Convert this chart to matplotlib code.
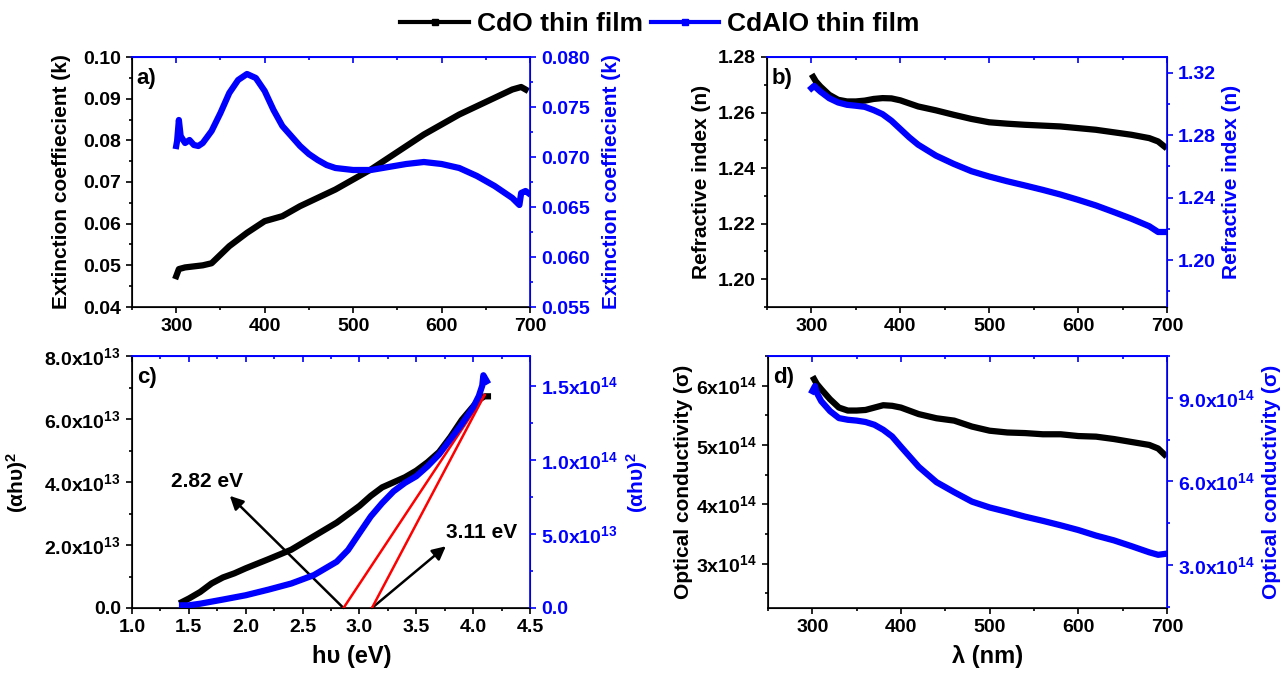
import numpy as np
import matplotlib
matplotlib.use('Agg')
import matplotlib.pyplot as plt
from matplotlib.lines import Line2D
from matplotlib.ticker import MultipleLocator, FuncFormatter

plt.rcParams['font.family'] = ['Liberation Sans', 'DejaVu Sans']
plt.rcParams['font.weight'] = 'bold'
plt.rcParams['axes.labelweight'] = 'bold'
plt.rcParams['mathtext.fontset'] = 'custom'
plt.rcParams['mathtext.rm'] = 'Liberation Sans:bold'
plt.rcParams['mathtext.default'] = 'rm'

# ---- data ----
# a) extinction coefficient vs wavelength
k_cdo_wl = [300, 303, 310, 330, 340, 360, 380, 400, 420, 440, 460, 480, 500, 520, 540,
            560, 580, 600, 620, 640, 660, 680, 690, 695]
k_cdo = [0.0474, 0.0491, 0.0495, 0.0500, 0.0505, 0.0546, 0.0578, 0.0606, 0.0618, 0.0642,
         0.0662, 0.0682, 0.0706, 0.0730, 0.0758, 0.0786, 0.0814, 0.0838, 0.0862, 0.0882,
         0.0902, 0.0922, 0.0928, 0.0922]
k_cdalo_wl = [300, 301, 303, 305, 310, 315, 320, 325, 330, 340, 350, 360, 370, 380, 390,
              400, 410, 420, 430, 440, 450, 460, 470, 480, 500, 520, 540, 560, 580, 600,
              620, 640, 660, 680, 688, 690, 695, 698]
k_cdalo = [0.0711, 0.0716, 0.0737, 0.0721, 0.0714, 0.0717, 0.0712, 0.0711, 0.0714, 0.0726,
           0.0744, 0.0764, 0.0777, 0.0783, 0.0779, 0.0766, 0.0747, 0.0731, 0.0721, 0.0711,
           0.0703, 0.0697, 0.0692, 0.0689, 0.0687, 0.0687, 0.0690, 0.0693, 0.0695, 0.0693,
           0.0689, 0.0681, 0.0671, 0.0659, 0.0652, 0.0664, 0.0666, 0.0664]

# b) refractive index vs wavelength
n_wl = [302, 305, 310, 320, 330, 340, 350, 360, 370, 380, 390, 400, 420, 440, 460, 480,
        500, 520, 540, 560, 580, 600, 620, 640, 660, 680, 690, 697]
n_cdo = [1.2728, 1.2712, 1.2694, 1.2664, 1.2646, 1.2640, 1.2640, 1.2643, 1.2649, 1.2652,
         1.2651, 1.2644, 1.2622, 1.2608, 1.2592, 1.2577, 1.2565, 1.2560, 1.2556, 1.2553,
         1.2550, 1.2544, 1.2538, 1.2529, 1.2520, 1.2508, 1.2496, 1.2478]
n_wl2 = [300, 303, 310, 320, 330, 340, 350, 360, 370, 380, 390, 400, 410, 420, 440, 460,
         480, 500, 520, 540, 560, 580, 600, 620, 640, 660, 680, 690, 697]
n_cdalo = [1.3100, 1.3115, 1.3079, 1.3036, 1.3009, 1.2994, 1.2988, 1.2981, 1.2960, 1.2934,
           1.2892, 1.2839, 1.2786, 1.2739, 1.2669, 1.2616, 1.2569, 1.2535, 1.2505, 1.2478,
           1.2450, 1.2420, 1.2386, 1.2350, 1.2308, 1.2265, 1.2217, 1.2180, 1.2180]

# c) Tauc plot
hv_cdo = [1.44, 1.5, 1.6, 1.7, 1.8, 1.9, 2.0, 2.2, 2.4, 2.6, 2.8, 3.0, 3.1, 3.2, 3.3, 3.4,
          3.5, 3.6, 3.7, 3.8, 3.9, 4.0, 4.05, 4.1, 4.13]
tauc_cdo = [1.9e12, 3.0e12, 5.1e12, 7.8e12, 9.7e12, 1.1e13, 1.26e13, 1.55e13, 1.85e13,
            2.28e13, 2.71e13, 3.24e13, 3.56e13, 3.83e13, 3.99e13, 4.15e13, 4.36e13,
            4.63e13, 4.95e13, 5.43e13, 5.97e13, 6.40e13, 6.61e13, 6.72e13, 6.72e13]
hv_cdalo = [1.44, 1.5, 1.6, 1.8, 2.0, 2.2, 2.4, 2.6, 2.8, 2.9, 3.0, 3.1, 3.2, 3.3, 3.4, 3.5,
            3.6, 3.7, 3.8, 3.9, 4.0, 4.05, 4.08, 4.09, 4.12]
tauc_cdalo = [1.8e12, 1.8e12, 2.9e12, 5.7e12, 8.6e12, 1.24e13, 1.65e13, 2.22e13, 3.12e13,
              3.91e13, 5.05e13, 6.18e13, 7.08e13, 7.87e13, 8.44e13, 8.89e13, 9.57e13,
              1.036e14, 1.138e14, 1.24e14, 1.353e14, 1.43e14, 1.50e14, 1.57e14, 1.53e14]
fit1_x = [2.86, 4.10]
fit2_x = [3.11, 4.10]
fit_y = [0, 6.76e13]
gap_labels = ['2.82 eV', '3.11 eV']

# d) optical conductivity
s_wl = [302, 305, 310, 320, 330, 340, 350, 360, 370, 380, 390, 400, 420, 440, 460, 480,
        500, 520, 540, 560, 580, 600, 620, 640, 660, 680, 690, 697]
s_cdo = [6.11e14, 6.03e14, 5.94e14, 5.77e14, 5.63e14, 5.58e14, 5.58e14, 5.59e14, 5.63e14,
         5.67e14, 5.66e14, 5.63e14, 5.52e14, 5.45e14, 5.41e14, 5.31e14, 5.24e14, 5.21e14,
         5.20e14, 5.18e14, 5.18e14, 5.15e14, 5.14e14, 5.10e14, 5.05e14, 5.00e14, 4.94e14,
         4.84e14]
s_wl2 = [300, 303, 305, 310, 320, 330, 340, 350, 360, 370, 380, 390, 400, 410, 420, 440,
         460, 480, 500, 520, 540, 560, 580, 600, 620, 640, 660, 680, 690, 697]
s_cdalo = [9.24e14, 9.42e14, 9.18e14, 8.88e14, 8.52e14, 8.27e14, 8.21e14, 8.18e14, 8.13e14,
           8.03e14, 7.85e14, 7.61e14, 7.24e14, 6.88e14, 6.52e14, 5.97e14, 5.61e14, 5.27e14,
           5.06e14, 4.90e14, 4.73e14, 4.58e14, 4.42e14, 4.25e14, 4.05e14, 3.88e14, 3.67e14,
           3.45e14, 3.36e14, 3.39e14]

BLUE = '#0000ff'
TFS = 14      # tick labels
YFS = 15      # y labels
XFS = 17      # x labels
LW = 4.5


def sci_fmt(dec):
    def f(v, pos):
        if abs(v) < 1e-30:
            return '0.0'
        e = int(np.floor(np.log10(abs(v)) + 1e-9))
        m = v / 10 ** e
        return f'{m:.{dec}f}x10$^{{{e}}}$'
    return FuncFormatter(f)


def style(ax, ax2, xlim, xmaj, xmin, ylim, ymaj, ymin, y2lim, y2maj, y2min):
    ax.set_xlim(*xlim)
    ax.set_ylim(*ylim)
    ax2.set_ylim(*y2lim)
    ax.xaxis.set_major_locator(MultipleLocator(xmaj))
    ax.xaxis.set_minor_locator(MultipleLocator(xmin))
    ax.yaxis.set_major_locator(MultipleLocator(ymaj))
    ax.yaxis.set_minor_locator(MultipleLocator(ymin))
    ax2.yaxis.set_major_locator(MultipleLocator(y2maj))
    ax2.yaxis.set_minor_locator(MultipleLocator(y2min))
    for a, c in ((ax, 'black'), (ax2, BLUE)):
        a.tick_params(which='both', direction='out', labelsize=TFS, width=1.2,
                      colors=c)
        a.tick_params(which='major', length=4.5)
        a.tick_params(which='minor', length=2.5)
    ax2.spines['right'].set_color(BLUE)
    ax2.spines['top'].set_color(BLUE)
    ax.spines['top'].set_color(BLUE)
    for s in ['left', 'bottom', 'top']:
        ax.spines[s].set_linewidth(1.2)
    ax2.spines['right'].set_linewidth(1.2)
    ax2.spines['top'].set_linewidth(1.2)
    top = ax.secondary_xaxis('top')
    top.xaxis.set_major_locator(MultipleLocator(xmaj))
    top.xaxis.set_minor_locator(MultipleLocator(xmin))
    top.tick_params(which='both', direction='in', labeltop=False, width=1.2,
                    colors=BLUE)
    top.tick_params(which='major', length=4.5)
    top.tick_params(which='minor', length=2.5)
    top.spines['top'].set_color(BLUE)


fig = plt.figure(figsize=(12.84, 6.75), dpi=100)
W, H = 1284, 675


def make_axes(l, r, t, b):
    return fig.add_axes([l / W, (H - b) / H, (r - l) / W, (b - t) / H])


axa = make_axes(132, 530, 57, 307)
axb = make_axes(767, 1167, 57, 307)
axc = make_axes(132, 530, 356, 608)
axd = make_axes(768, 1167, 356, 608)


def panel_label(ax, s):
    ax.text(0.012, 0.915, s, transform=ax.transAxes, fontsize=16,
            fontweight='bold', va='center', ha='left')


# a)
a2 = axa.twinx()
axa.plot(k_cdo_wl, k_cdo, color='black', lw=LW)
a2.plot(k_cdalo_wl, k_cdalo, color=BLUE, lw=LW)
style(axa, a2, (250, 700), 100, 50, (0.04, 0.10), 0.01, 0.005,
      (0.055, 0.080), 0.005, 0.0025)
axa.yaxis.set_major_formatter(FuncFormatter(lambda v, p: f'{v:.2f}'))
a2.yaxis.set_major_formatter(FuncFormatter(lambda v, p: f'{v:.3f}'))
axa.set_ylabel('Extinction coeffiecient (k)', fontsize=YFS)
a2.set_ylabel('Extinction coeffiecient (k)', fontsize=YFS, color=BLUE)
axa.yaxis.set_label_coords(-0.153, 0.5)
a2.yaxis.set_label_coords(1.18, 0.5)
panel_label(axa, 'a)')

# b)
b2 = axb.twinx()
axb.plot(n_wl, n_cdo, color='black', lw=LW)
b2.plot(n_wl2, n_cdalo, color=BLUE, lw=LW)
style(axb, b2, (250, 700), 100, 50, (1.19, 1.28), 0.02, 0.01,
      (1.17, 1.33), 0.04, 0.02)
axb.yaxis.set_major_formatter(FuncFormatter(lambda v, p: f'{v:.2f}'))
b2.yaxis.set_major_formatter(FuncFormatter(lambda v, p: f'{v:.2f}'))
axb.set_ylabel('Refractive index (n)', fontsize=YFS)
b2.set_ylabel('Refractive index (n)', fontsize=YFS, color=BLUE)
axb.yaxis.set_label_coords(-0.14, 0.5)
b2.yaxis.set_label_coords(1.137, 0.5)
panel_label(axb, 'b)')

# c)
c2 = axc.twinx()
axc.plot(hv_cdo, tauc_cdo, color='black', lw=LW)
c2.plot(hv_cdalo, tauc_cdalo, color=BLUE, lw=LW)
style(axc, c2, (1.0, 4.5), 0.5, 0.25, (0, 8e13), 2e13, 1e13,
      (0, 1.7e14), 5e13, 2.5e13)
axc.xaxis.set_major_formatter(FuncFormatter(lambda v, p: f'{v:.1f}'))
axc.yaxis.set_major_formatter(sci_fmt(1))
c2.yaxis.set_major_formatter(sci_fmt(1))
axc.plot(fit1_x, fit_y, color='red', lw=1.8, zorder=5)
axc.plot(fit2_x, fit_y, color='red', lw=1.8, zorder=5)
arrow = dict(arrowstyle='-|>', color='black', lw=1.8, mutation_scale=20,
             shrinkA=0, shrinkB=0)
axc.annotate('', xy=(1.86, 3.56e13), xytext=(fit1_x[0], 0), arrowprops=arrow)
axc.annotate('', xy=(3.76, 1.96e13), xytext=(fit2_x[0], 0), arrowprops=arrow)
axc.text(1.66, 4.03e13, gap_labels[0], fontsize=TFS + 1, fontweight='bold',
         ha='center', va='center')
axc.text(4.07, 2.39e13, gap_labels[1], fontsize=TFS + 1, fontweight='bold',
         ha='center', va='center')
axc.set_xlabel('hυ (eV)', fontsize=XFS)
axc.xaxis.set_label_coords(0.553, -0.147)
axc.set_ylabel('(αhυ)$^{2}$', fontsize=YFS)
c2.set_ylabel('(αhυ)$^{2}$', fontsize=YFS, color=BLUE)
axc.yaxis.set_label_coords(-0.256, 0.5)
c2.yaxis.set_label_coords(1.237, 0.5)
panel_label(axc, 'c)')

# d)
d2 = axd.twinx()
axd.plot(s_wl, s_cdo, color='black', lw=LW)
d2.plot(s_wl2, s_cdalo, color=BLUE, lw=LW)
style(axd, d2, (250, 700), 100, 50, (2.25e14, 6.5e14), 1e14, 5e13,
      (1.45e14, 10.5e14), 3e14, 1.5e14)
axd.yaxis.set_major_formatter(sci_fmt(0))
d2.yaxis.set_major_formatter(sci_fmt(1))
axd.set_xlabel('λ (nm)', fontsize=XFS)
axd.xaxis.set_label_coords(0.551, -0.147)
axd.set_ylabel('Optical conductivity (σ)', fontsize=YFS)
d2.set_ylabel('Optical conductivity (σ)', fontsize=YFS, color=BLUE)
axd.yaxis.set_label_coords(-0.188, 0.5)
d2.yaxis.set_label_coords(1.238, 0.5)
panel_label(axd, 'd)')

handles = [Line2D([], [], color='black', lw=3, marker='s', markersize=4),
           Line2D([], [], color=BLUE, lw=3, marker='s', markersize=4)]
fig.legend(handles, ['CdO thin film', 'CdAlO thin film'], loc='center',
           bbox_to_anchor=(660 / W, 1 - 24 / H), ncol=2, frameon=False,
           prop={'size': 19, 'weight': 'bold'}, handlelength=2.6,
           handletextpad=0.3, columnspacing=0.3)

fig.savefig('out.png', dpi=100)
